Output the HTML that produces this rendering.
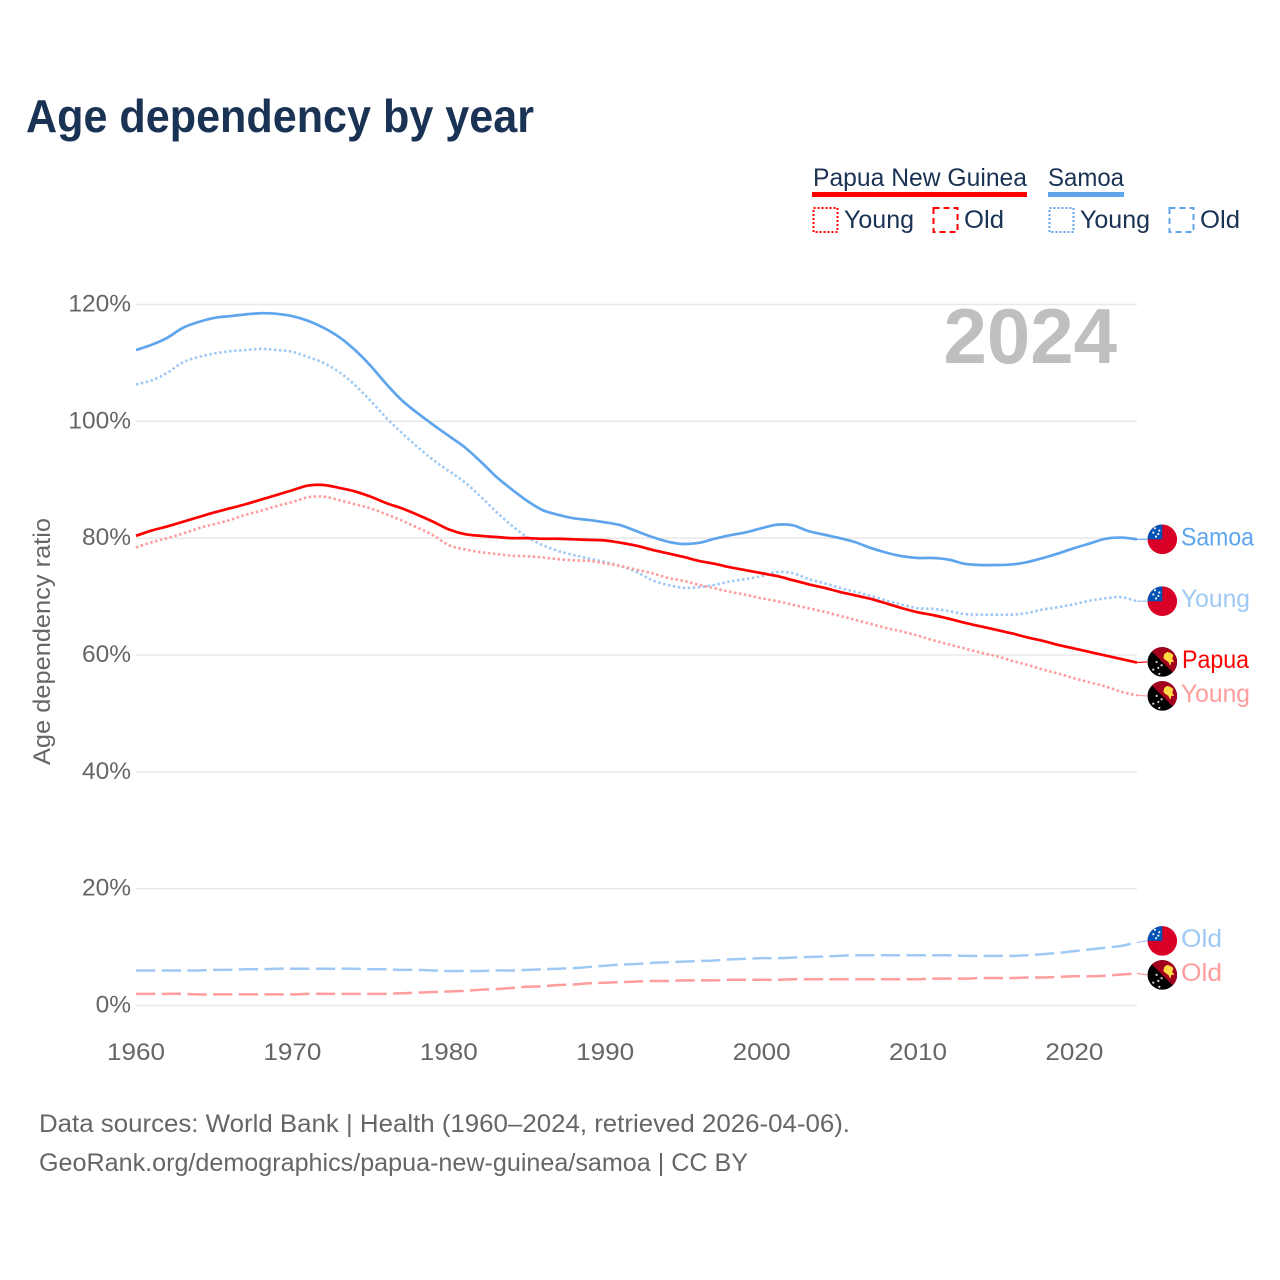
<!DOCTYPE html>
<html lang="en">
<head>
<meta charset="utf-8">
<title>Age dependency by year</title>
<style>
html,body{margin:0;padding:0;background:#fff;width:1280px;height:1280px;overflow:hidden}
svg{display:block}
text{font-family:"Liberation Sans",sans-serif}
.leg{font-size:25px;fill:#1a3253}
.tick{font-size:24.5px;fill:#666}
.foot{font-size:25px;fill:#666}
.lab{font-size:25px}
</style>
</head>
<body>
<svg id="chart" xmlns="http://www.w3.org/2000/svg" width="1280" height="1280" viewBox="0 0 1280 1280">
  <defs>
    <clipPath id="flag-clip"><circle cx="0" cy="0" r="14.8"></circle></clipPath>
  </defs>
  <rect width="1280" height="1280" fill="#fff"></rect>
  <text x="26" y="132" font-size="46" font-weight="700" fill="#1a3253" textLength="508" lengthAdjust="spacingAndGlyphs">Age dependency by year</text>

  <g>
    <text class="leg" x="813" y="186" textLength="214" lengthAdjust="spacingAndGlyphs">Papua New Guinea</text>
    <rect x="812" y="192" width="215" height="5" fill="#ff0000"></rect>
    <text class="leg" x="1048" y="186" textLength="76" lengthAdjust="spacingAndGlyphs">Samoa</text>
    <rect x="1048" y="192" width="76" height="5" fill="#5fa5ee"></rect>

    <rect x="813.5" y="208" width="24" height="24" fill="none" stroke="#ff0000" stroke-width="2" stroke-dasharray="2 2"></rect>
    <text class="leg" x="844" y="228" textLength="70" lengthAdjust="spacingAndGlyphs">Young</text>
    <rect x="933.5" y="208" width="24" height="24" fill="none" stroke="#ff0000" stroke-width="2" stroke-dasharray="6 4"></rect>
    <text class="leg" x="964" y="228" textLength="40" lengthAdjust="spacingAndGlyphs">Old</text>

    <rect x="1049.5" y="208" width="24" height="24" fill="none" stroke="#5fa5ee" stroke-width="2" stroke-dasharray="2 2"></rect>
    <text class="leg" x="1080" y="228" textLength="70" lengthAdjust="spacingAndGlyphs">Young</text>
    <rect x="1169.5" y="208" width="24" height="24" fill="none" stroke="#5fa5ee" stroke-width="2" stroke-dasharray="6 4"></rect>
    <text class="leg" x="1200" y="228" textLength="40" lengthAdjust="spacingAndGlyphs">Old</text>
  </g>

  <g id="grid"></g>
  <g id="yticks"></g>
  <g id="xticks"></g>

  <text x="1117" y="363" text-anchor="end" font-size="78" font-weight="700" fill="#bfbfbf">2024</text>
  <text class="tick" transform="translate(50,641.5) rotate(-90)" text-anchor="middle" textLength="247" lengthAdjust="spacingAndGlyphs">Age dependency ratio</text>

  <g id="series"></g>
  <g id="ends"></g>

  <text class="foot" x="39" y="1132" textLength="811" lengthAdjust="spacingAndGlyphs">Data sources: World Bank | Health (1960–2024, retrieved 2026-04-06).</text>
  <text class="foot" x="39" y="1171" textLength="709" lengthAdjust="spacingAndGlyphs">GeoRank.org/demographics/papua-new-guinea/samoa | CC BY</text>
</svg>
<script>
const startYear = 1960;
const yTickValues = [0, 20, 40, 60, 80, 100, 120];
const xTickValues = [1960, 1970, 1980, 1990, 2000, 2010, 2020];

const samoaTotal = [
  112.2,113.1,114.3,116.0,117.0,117.7,118.0,118.3,118.5,118.4,
  118.0,117.2,116.0,114.4,112.2,109.5,106.4,103.6,101.4,99.4,
  97.5,95.6,93.2,90.6,88.4,86.4,84.8,84.0,83.4,83.1,
  82.7,82.2,81.2,80.2,79.4,79.0,79.2,79.9,80.5,81.0,
  81.7,82.3,82.2,81.2,80.6,80.0,79.3,78.3,77.5,76.9,
  76.6,76.6,76.3,75.6,75.4,75.4,75.5,75.9,76.6,77.4,
  78.3,79.1,79.9,80.1,79.8];
const samoaYoung = [
  106.3,107.0,108.3,110.1,111.0,111.6,112.0,112.2,112.4,112.2,
  111.9,111.0,110.0,108.4,106.2,103.5,100.6,98.0,95.6,93.4,
  91.5,89.6,87.2,84.6,82.2,80.2,78.8,77.8,77.1,76.5,
  75.9,75.2,74.2,72.8,72.0,71.5,71.6,72.0,72.6,73.0,
  73.5,74.2,74.0,73.0,72.3,71.5,70.8,70.1,69.3,68.6,
  68.0,67.9,67.5,67.0,66.9,66.9,66.9,67.2,67.8,68.2,
  68.7,69.3,69.7,69.9,69.2];
const samoaOld = [
  6.0,6.0,6.0,6.0,6.0,6.1,6.1,6.2,6.2,6.3,
  6.3,6.3,6.3,6.3,6.3,6.2,6.2,6.1,6.1,6.0,
  5.9,5.9,5.9,6.0,6.0,6.1,6.2,6.3,6.4,6.6,
  6.8,7.0,7.1,7.3,7.4,7.5,7.6,7.7,7.9,8.0,
  8.1,8.1,8.2,8.3,8.4,8.5,8.6,8.6,8.6,8.6,
  8.6,8.6,8.6,8.5,8.5,8.5,8.5,8.6,8.8,9.0,
  9.3,9.6,9.9,10.2,10.8];
const papuaTotal = [
  80.4,81.3,82.0,82.8,83.6,84.4,85.1,85.8,86.6,87.4,
  88.2,89.0,89.1,88.6,88.0,87.1,86.0,85.1,84.0,82.8,
  81.5,80.7,80.4,80.2,80.0,80.0,79.9,79.9,79.8,79.7,
  79.6,79.2,78.7,78.0,77.4,76.8,76.1,75.6,75.0,74.5,
  74.0,73.5,72.8,72.1,71.5,70.8,70.2,69.6,68.8,68.0,
  67.3,66.8,66.2,65.5,64.9,64.3,63.7,63.0,62.4,61.7,
  61.1,60.5,59.9,59.3,58.7];
const papuaYoung = [
  78.4,79.3,80.0,80.8,81.7,82.4,83.1,84.0,84.7,85.5,
  86.2,87.0,87.1,86.5,85.8,85.1,84.1,83.0,81.8,80.5,
  78.8,78.1,77.6,77.3,77.0,76.9,76.7,76.4,76.2,76.1,
  75.7,75.2,74.6,74.0,73.2,72.7,72.0,71.4,70.8,70.3,
  69.7,69.2,68.6,68.0,67.4,66.7,66.0,65.3,64.6,64.0,
  63.3,62.5,61.8,61.1,60.4,59.8,59.0,58.3,57.5,56.8,
  56.0,55.3,54.6,53.7,53.1];
const papuaOld = [
  2.0,2.0,2.0,2.0,1.9,1.9,1.9,1.9,1.9,1.9,
  1.9,2.0,2.0,2.0,2.0,2.0,2.0,2.1,2.2,2.3,
  2.4,2.5,2.7,2.8,3.0,3.2,3.3,3.5,3.6,3.8,
  3.9,4.0,4.1,4.2,4.2,4.3,4.3,4.3,4.4,4.4,
  4.4,4.4,4.5,4.5,4.5,4.5,4.5,4.5,4.5,4.5,
  4.5,4.6,4.6,4.6,4.7,4.7,4.7,4.8,4.8,4.9,
  5.0,5.0,5.1,5.3,5.5];

const NS = 'http://www.w3.org/2000/svg';
function x(year){ return 136 + (year - 1960) * 15.64; }
function y(v){ return 1005.5 - v * 5.842; }
function make(tag, parent){ const e = document.createElementNS(NS, tag); parent.appendChild(e); return e; }
function set(e, attrs){ for (const k in attrs) e.setAttribute(k, attrs[k]); return e; }

const grid = document.getElementById('grid');
const yticks = document.getElementById('yticks');
yTickValues.forEach(function(v){
  const l = set(make('line', grid), {x1: 136, x2: 1137, y1: y(v), y2: y(v), stroke: '#e8e8e8', 'stroke-width': 1.5});
  
  
  const t = set(make('text', yticks), {x: 131, y: y(v) + 7, 'text-anchor': 'end', class: 'tick'});
  
  
  t.textContent = v + '%';
});
const xticks = document.getElementById('xticks');
xTickValues.forEach(function(yr){
  const t = set(make('text', xticks), {x: x(yr), y: 1060, 'text-anchor': 'middle', class: 'tick', textLength: 58, lengthAdjust: 'spacingAndGlyphs'});
  
  
  t.textContent = yr;
});

const BLUE = '#5fa5ee', BLUE_L = '#9fc9f5', RED = '#ff0000', RED_L = '#ff9c9c';
const seriesList = [
  {id:'samoa-old',   vals:samoaOld,   color:BLUE_L, dash:'19.3 6.4', w:2.5, flag:'samoa', text:'Old',   lx:1181, tl:41},
  {id:'papua-old',   vals:papuaOld,   color:RED_L,  dash:'19.3 6.4', w:2.5, flag:'png',   text:'Old',   lx:1181, tl:41},
  {id:'samoa-young', vals:samoaYoung, color:BLUE_L, dash:'2.5 2.5',  w:2.6, flag:'samoa', text:'Young', lx:1181, tl:69},
  {id:'papua-young', vals:papuaYoung, color:RED_L,  dash:'2.5 2.5',  w:2.6, flag:'png',   text:'Young', lx:1181, tl:69},
  {id:'samoa-total', vals:samoaTotal, color:BLUE,   dash:'',         w:2.7, flag:'samoa', text:'Samoa', lx:1181, tl:73},
  {id:'papua-total', vals:papuaTotal, color:RED,    dash:'',         w:2.7, flag:'png',   text:'Papua', lx:1182, tl:67}
];

/* smooth path through the data points (Catmull-Rom to cubic Bezier) */
function curve(vals){
  const pts = vals.map(function(v, i){ return [x(startYear + i), y(v)]; });
  let d = 'M' + pts[0][0].toFixed(2) + ' ' + pts[0][1].toFixed(2);
  for (let i = 0; i < pts.length - 1; i++) {
    const p0 = pts[Math.max(i - 1, 0)], p1 = pts[i], p2 = pts[i + 1], p3 = pts[Math.min(i + 2, pts.length - 1)];
    const c1x = p1[0] + (p2[0] - p0[0]) / 6, c1y = p1[1] + (p2[1] - p0[1]) / 6;
    const c2x = p2[0] - (p3[0] - p1[0]) / 6, c2y = p2[1] - (p3[1] - p1[1]) / 6;
    d += 'C' + c1x.toFixed(2) + ' ' + c1y.toFixed(2) + ' ' + c2x.toFixed(2) + ' ' + c2y.toFixed(2) + ' ' + p2[0].toFixed(2) + ' ' + p2[1].toFixed(2);
  }
  return d;
}

const seriesG = document.getElementById('series');
seriesList.forEach(function(s){
  const p = set(make('path', seriesG), {d: curve(s.vals), fill: 'none', stroke: s.color, 'stroke-width': s.w, 'stroke-linejoin': 'round'});
  if (s.dash) p.setAttribute('stroke-dasharray', s.dash);
  
  
});

/* end label layout: push colliding labels apart, keeping 34px between them */
const MIN_GAP = 34;
const order = seriesList.slice().sort(function(a, b){ return y(a.vals[a.vals.length - 1]) - y(b.vals[b.vals.length - 1]); });
order.forEach(function(s){ s.ly = y(s.vals[s.vals.length - 1]); });
for (let i = 1; i < order.length; i++) {
  const gap = order[i].ly - order[i - 1].ly;
  if (gap < MIN_GAP) { const m = (MIN_GAP - gap) / 2; order[i - 1].ly -= m; order[i].ly += m; }
}

function drawSamoa(g){
  set(make('circle', g), {cx: 0, cy: 0, r: 15, fill: '#d80027'});
  set(make('rect', g), {x: -15, y: -15, width: 15, height: 15, fill: '#0052b4'});
  [[-7.3,-11],[-3,-8.7],[-9,-6.7],[-4,-5.3],[-6.3,-2.7]].forEach(function(c){
    set(make('circle', g), {cx: c[0], cy: c[1], r: 1.1, fill: '#f0f0f0'});
  });
}
function drawPng(g){
  set(make('circle', g), {cx: 0, cy: 0, r: 15, fill: '#000'});
  set(make('polygon', g), {points: '-15,-15 15,-15 15,15', fill: '#a2001d'});
  set(make('polygon', g), {points: '2,-8 5,-10 8,-9 11,-7 10,-3 12,0 9,0 8,4 6,0 3,-2 1,-4', fill: '#ffda44'});
  [[-5.7,0],[-0.7,3.3],[-9,7.7],[-3,12],[-4,6]].forEach(function(c){
    set(make('circle', g), {cx: c[0], cy: c[1], r: 1.1, fill: '#d8d8d8'});
  });
}

const ends = document.getElementById('ends');
seriesList.forEach(function(s){
  const last = s.vals[s.vals.length - 1];
  const c = set(make('line', ends), {x1: x(2024), y1: y(last), x2: 1147, y2: s.ly, stroke: s.color, 'stroke-width': 1.2});
  
  

  const g = set(make('g', ends), {transform: 'translate(1162.3,' + s.ly.toFixed(2) + ')', 'clip-path': 'url(#flag-clip)'});
  
  
  if (s.flag === 'samoa') drawSamoa(g); else drawPng(g);

  const t = set(make('text', ends), {x: s.lx, y: s.ly + 6, class: 'lab', fill: s.color, textLength: s.tl, lengthAdjust: 'spacingAndGlyphs'});
  
  
  t.textContent = s.text;
});
</script>
</body>
</html>
